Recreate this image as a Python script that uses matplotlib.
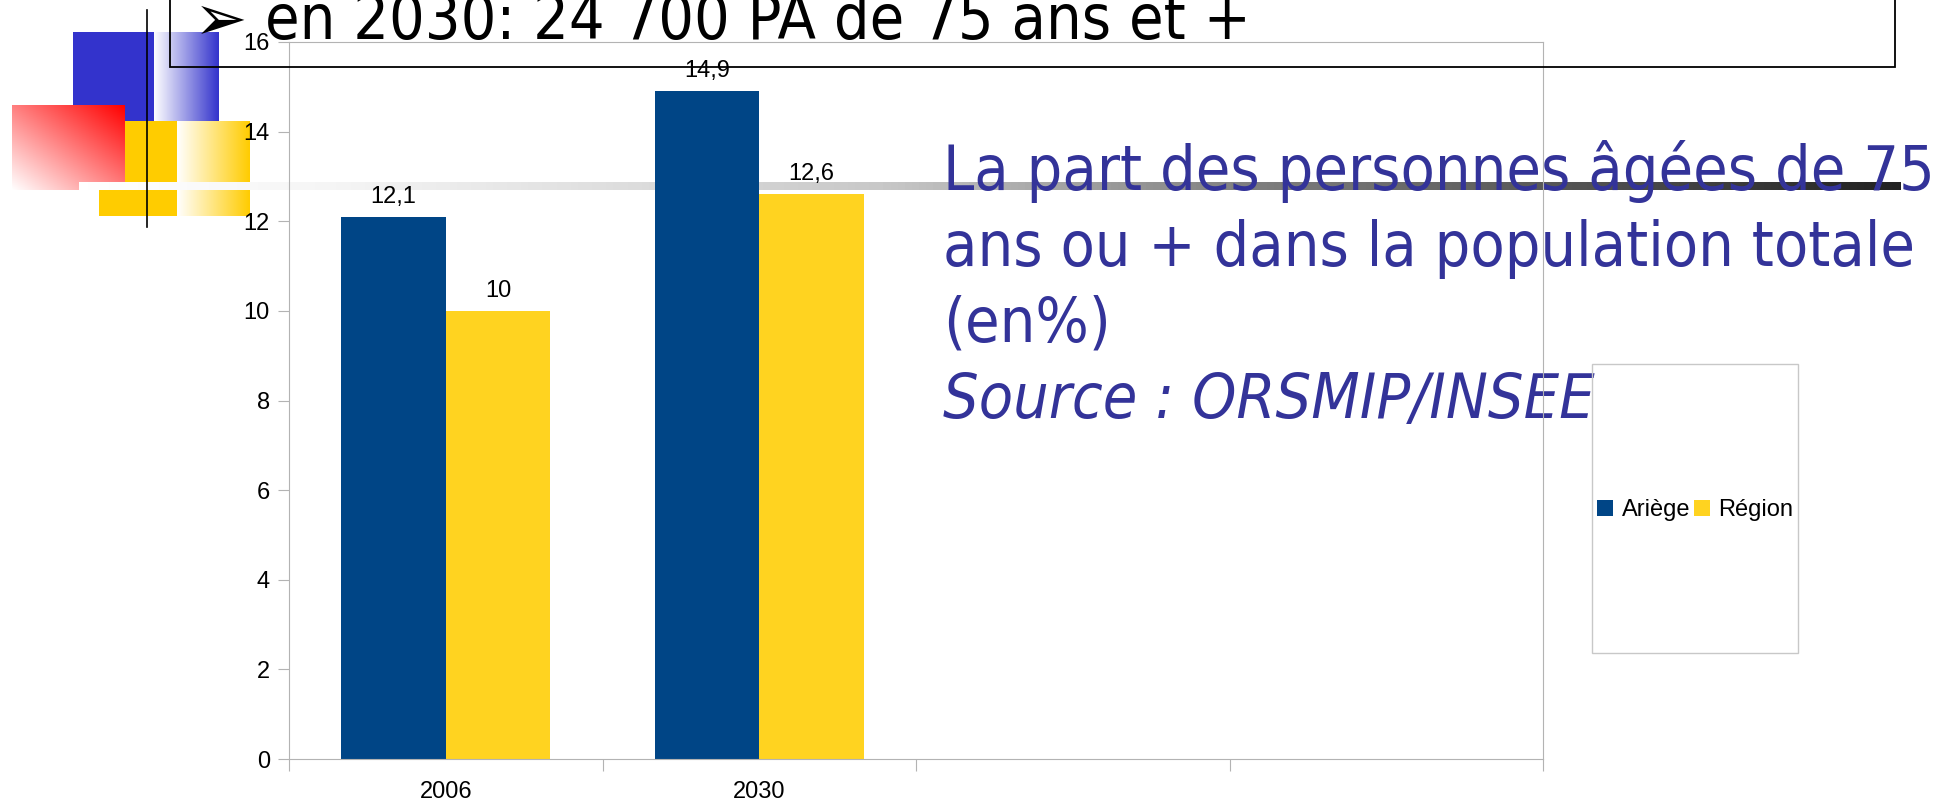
import numpy as np
import matplotlib
matplotlib.use('Agg')
import matplotlib.pyplot as plt
from matplotlib.patches import Rectangle
from matplotlib.colors import LinearSegmentedColormap

# chart data
categories = ['2006', '2030', '', '']
ariege = [12.1, 14.9]
region = [10, 12.6]
series_names = ['Ariège', 'Région']
y_ticks = [0, 2, 4, 6, 8, 10, 12, 14, 16]

title = 'en 2030: 24 700 PA de 75 ans et +'
side_lines = ['La part des personnes âgées de 75',
              'ans ou + dans la population totale',
              '(en%)']
source = 'Source : ORSMIP/INSEE'

W, H = 1954, 808
BLUE = '#004586'
YELLOW = '#ffd320'
TEXT_BLUE = '#333399'
GRID = '#b3b3b3'
CHART_FONT = ['Liberation Sans', 'DejaVu Sans']


def grad(ax, x0, x1, y0, y1, color, zorder=1):
    '''horizontal gradient from white (left) to color (right)'''
    cmap = LinearSegmentedColormap.from_list('g', ['white', color])
    ax.imshow(np.linspace(0, 1, 256)[None, :], cmap=cmap, aspect='auto',
              extent=[x0, x1, y1, y0], zorder=zorder, interpolation='bilinear')


fig = plt.figure(figsize=(W / 100, H / 100), dpi=100)

# background slide decorations, in pixel coordinates
bg = fig.add_axes([0, 0, 1, 1], zorder=0)
bg.set_xlim(0, W)
bg.set_ylim(H, 0)
bg.axis('off')

bg.add_patch(Rectangle((73, 32), 81, 89, color='#3333cc', lw=0, zorder=1))
grad(bg, 154, 219, 32, 121, '#3333cc')
# red square, red in the top right corner fading to white bottom left
xx, yy = np.meshgrid(np.linspace(0, 1, 128), np.linspace(0, 1, 128))
t = (xx + (1 - yy)) / 2
red_img = np.dstack([np.ones_like(t), 1 - t, 1 - t])
bg.imshow(red_img, extent=[12, 125, 190, 105], aspect='auto', zorder=2,
          interpolation='bilinear')
bg.add_patch(Rectangle((125, 121), 52, 61, color='#ffcc00', lw=0, zorder=2))
grad(bg, 177, 250, 121, 182, '#ffcc00', zorder=2)
bg.add_patch(Rectangle((99, 190), 78, 26, color='#ffcc00', lw=0, zorder=2))
grad(bg, 177, 250, 190, 216, '#ffcc00', zorder=2)

# long grey rule fading from white to near black
rule = LinearSegmentedColormap.from_list(
    'rule', [(0, '#ffffff'), (0.14, '#f5f5f5'), (0.44, '#c8c8c8'),
             (0.64, '#808080'), (0.80, '#5a5a5a'), (1, '#222222')])
bg.imshow(np.linspace(0, 1, 512)[None, :], cmap=rule, aspect='auto',
          extent=[79, 1901, 190, 182], zorder=3, interpolation='bilinear')
bg.plot([147, 147], [10, 227], color='black', lw=1.2, zorder=4)

# blue text block on the right
for i, line in enumerate(side_lines):
    bg.text(943, 190 + i * 76, line, color=TEXT_BLUE, fontsize=45,
            family='DejaVu Sans', fontstretch='condensed',
            va='baseline', ha='left', zorder=5)
bg.text(943, 190 + 3 * 76, source, color=TEXT_BLUE, fontsize=45,
        family='DejaVu Sans', fontstretch='condensed', style='italic',
        va='baseline', ha='left', zorder=5)

# bar chart
ax = fig.add_axes([289 / W, 1 - 759 / H, (1543 - 289) / W, (759 - 42) / H],
                  zorder=1)
ax.patch.set_alpha(0)
x = np.arange(len(ariege)) + 0.5
bw = 1 / 3
b1 = ax.bar(x - bw / 2, ariege, bw, color=BLUE, label=series_names[0])
b2 = ax.bar(x + bw / 2, region, bw, color=YELLOW, label=series_names[1])
for bars, vals in ((b1, ariege), (b2, region)):
    ax.bar_label(bars, labels=[f'{v:g}'.replace('.', ',') for v in vals],
                 padding=6.5, fontsize=17, family=CHART_FONT)

ax.set_xlim(0, len(categories))
ax.set_ylim(0, 16)
ax.set_yticks(y_ticks)
ax.set_yticklabels([str(v) for v in y_ticks], family=CHART_FONT, fontsize=17)
ax.set_xticks(range(len(categories) + 1))
ax.set_xticklabels([])
ax.set_xticks(np.arange(len(categories)) + 0.5, minor=True)
ax.set_xticklabels(categories, minor=True, family=CHART_FONT, fontsize=17)
ax.tick_params(axis='y', length=8, width=0.8, color=GRID, pad=5.8)
ax.tick_params(axis='x', which='major', length=8.6, width=0.8, color=GRID)
ax.tick_params(axis='x', which='minor', length=0, pad=16)
for s in ax.spines.values():
    s.set_color(GRID)
    s.set_linewidth(0.8)

ax.legend(loc='center', ncol=2, bbox_to_anchor=(1695 / W, 1 - 510 / H),
          bbox_transform=fig.transFigure, frameon=False,
          prop={'family': CHART_FONT, 'size': 17},
          handlelength=0.68, handleheight=0.68, handletextpad=0.35,
          columnspacing=0.15, borderpad=0)

# overlay: title box, title text and legend frame
top = fig.add_axes([0, 0, 1, 1], zorder=2)
top.set_xlim(0, W)
top.set_ylim(H, 0)
top.axis('off')
top.patch.set_alpha(0)
top.add_patch(Rectangle((170, -20), 1895 - 170, 87, fill=False,
                        edgecolor='black', lw=1.3))
top.text(194, 40, '➢', fontsize=46, family='DejaVu Sans', va='baseline',
         ha='left', color='black')
top.text(265, 39, title, fontsize=45, family='DejaVu Sans',
         fontstretch='condensed', va='baseline', ha='left', color='black')
top.add_patch(Rectangle((1592, 364), 206, 289, fill=False,
                        edgecolor='#c8c8c8', lw=1))

fig.savefig('out.png', dpi=100)
